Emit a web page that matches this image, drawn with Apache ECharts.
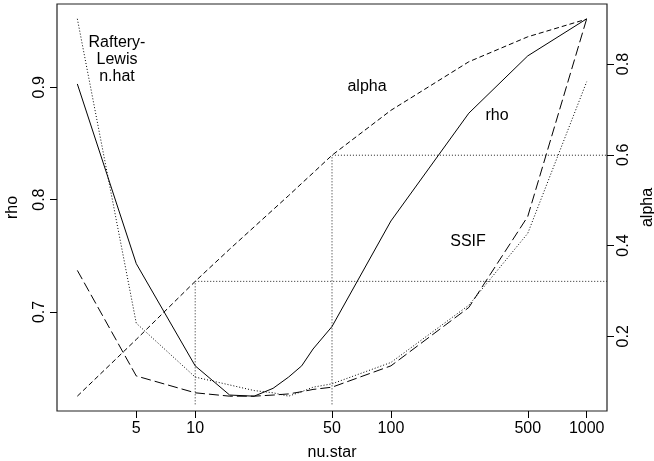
<!DOCTYPE html>
<html>
<head>
<meta charset="utf-8">
<script src="https://cdn.jsdelivr.net/npm/echarts@6/dist/echarts.min.js"></script>
<style>
  html, body { margin: 0; padding: 0; background: #fff; }
  #chart { width: 654px; height: 461px; }
</style>
</head>
<body>
<div id="chart"></div>
<script>
// nu.star grid and the curves evaluated on it
var nuStar = [2.5, 5, 10, 15, 20, 25, 30, 35, 40, 50, 100, 250, 500, 1000];
var rho = [0.903, 0.743, 0.652, 0.626, 0.625, 0.632, 0.642, 0.652, 0.667, 0.687, 0.781, 0.877, 0.928, 0.961];
var ssif = [0.737, 0.643, 0.628, 0.625, 0.625, 0.626, 0.627, 0.629, 0.631, 0.633, 0.652, 0.704, 0.785, 0.961];
var rafteryLewis = [0.961, 0.690, 0.642, 0.635, 0.630, 0.628, 0.625, 0.629, 0.633, 0.636, 0.655, 0.706, 0.770, 0.905];
var alpha = [0.068, 0.193, 0.321, 0.392, 0.441, 0.479, 0.510, 0.537, 0.560, 0.599, 0.698, 0.805, 0.860, 0.899];

// axis ticks
var xTicks = [5, 10, 50, 100, 500, 1000];
var rhoTicks = [0.7, 0.8, 0.9];
var alphaTicks = [0.2, 0.4, 0.6, 0.8];

// guide lines drawn at these nu.star values, up to alpha there
var guideX = [10, 50];
var guideAlpha = [0.321, 0.599];
var guideFloor = 0.05;

var X_MIN = 1.968, X_MAX = 1270;
var FONT = "'Liberation Sans', Arial, Helvetica, sans-serif";

function pairs(xs, ys) {
  return xs.map(function (x, i) { return [x, ys[i]]; });
}

function curve(name, ys, dash, yAxisIndex) {
  return {
    name: name,
    type: 'line',
    yAxisIndex: yAxisIndex,
    data: pairs(nuStar, ys),
    symbol: 'none',
    lineStyle: { color: '#000', width: 1, type: dash },
    z: 3
  };
}

var guides = guideX.map(function (gx, i) {
  return {
    type: 'line',
    yAxisIndex: 1,
    data: [[gx, guideFloor], [gx, guideAlpha[i]], [X_MAX, guideAlpha[i]]],
    symbol: 'none',
    lineStyle: { color: '#222', width: 1, type: [1, 2] },
    z: 2
  };
});

var chart = echarts.init(document.getElementById('chart'), null, { renderer: 'canvas' });

var axisText = { color: '#000', fontSize: 16, fontFamily: FONT };

chart.setOption({
  animation: false,
  backgroundColor: '#fff',
  textStyle: { fontFamily: FONT },
  grid: {
    left: 57, right: 47, top: 4, bottom: 50,
    containLabel: false,
    outerBoundsMode: 'none',
    show: true, borderColor: '#222', borderWidth: 1.2, backgroundColor: 'transparent'
  },
  xAxis: {
    type: 'log',
    logBase: 10,
    min: X_MIN,
    max: X_MAX,
    name: 'nu.star',
    nameLocation: 'middle',
    nameGap: 34,
    nameTextStyle: axisText,
    axisLine: { show: false },
    splitLine: { show: false },
    axisTick: { show: true, inside: false, length: 7, customValues: xTicks, lineStyle: { color: '#000' } },
    axisLabel: Object.assign({ margin: 10, customValues: xTicks, formatter: function (v) { return String(v); } }, axisText)
  },
  yAxis: [
    {
      type: 'value',
      position: 'left',
      min: 0.6118,
      max: 0.9742,
      name: 'rho',
      nameLocation: 'middle',
      nameGap: 36,
      nameRotate: 90,
      nameTextStyle: axisText,
      axisLine: { show: false },
      splitLine: { show: false },
      axisTick: { show: true, length: 7, customValues: rhoTicks, lineStyle: { color: '#000' } },
      axisLabel: Object.assign({ margin: 9, rotate: 90, customValues: rhoTicks, formatter: function (v) { return v.toFixed(1); } }, axisText)
    },
    {
      type: 'value',
      position: 'right',
      min: 0.0353,
      max: 0.9323,
      name: 'alpha',
      nameLocation: 'middle',
      nameGap: 33,
      nameRotate: 90,
      nameTextStyle: axisText,
      axisLine: { show: false },
      splitLine: { show: false },
      axisTick: { show: true, length: 7, customValues: alphaTicks, lineStyle: { color: '#000' } },
      axisLabel: Object.assign({ margin: 9, rotate: 90, customValues: alphaTicks, formatter: function (v) { return v.toFixed(1); } }, axisText)
    }
  ],
  series: [
    curve('rho', rho, 'solid', 0),
    curve('SSIF', ssif, [10, 4], 0),
    curve('Raftery-Lewis n.hat', rafteryLewis, [1, 2], 0),
    curve('alpha', alpha, [5, 3], 1)
  ].concat(guides),
  graphic: [
    { type: 'text', x: 117, y: 60, style: { text: 'Raftery-\nLewis\nn.hat', fill: '#000', font: '16px ' + FONT, textAlign: 'center', textVerticalAlign: 'middle', lineHeight: 17 } },
    { type: 'text', x: 367, y: 87, style: { text: 'alpha', fill: '#000', font: '16px ' + FONT, textAlign: 'center', textVerticalAlign: 'middle' } },
    { type: 'text', x: 497, y: 116, style: { text: 'rho', fill: '#000', font: '16px ' + FONT, textAlign: 'center', textVerticalAlign: 'middle' } },
    { type: 'text', x: 468, y: 242, style: { text: 'SSIF', fill: '#000', font: '16px ' + FONT, textAlign: 'center', textVerticalAlign: 'middle' } }
  ]
});
</script>
</body>
</html>
